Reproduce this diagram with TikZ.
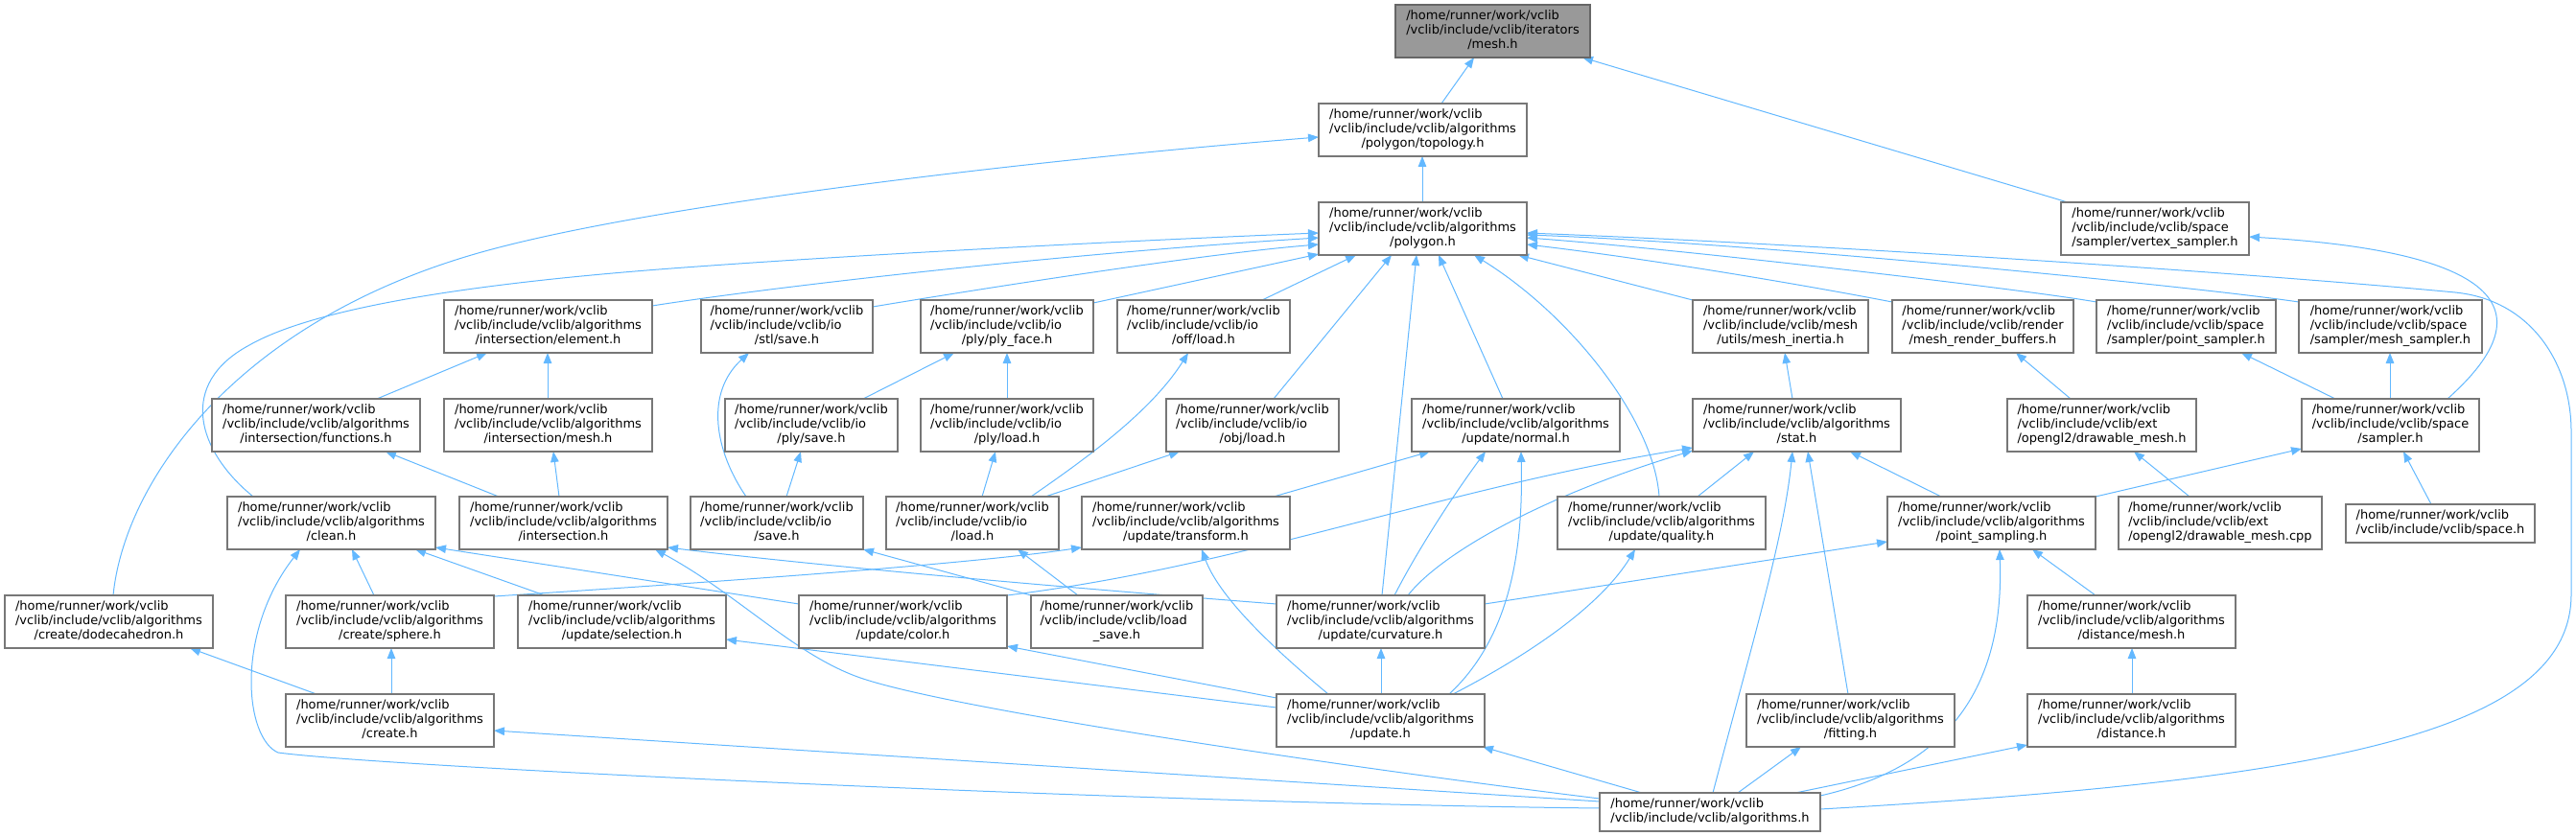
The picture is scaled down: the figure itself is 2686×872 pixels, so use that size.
\documentclass[tikz,border=0pt]{standalone}
\usepackage{fontspec}
\setmainfont{DejaVu Sans}
\usetikzlibrary{arrows.meta,calc,backgrounds}
\definecolor{edgec}{HTML}{63B8FF}
\definecolor{boxc}{HTML}{777777}
\definecolor{mainf}{HTML}{999999}
\newcommand\Hp{/home/runner/work/vclib}
\newcommand\Vp{/vclib/include/vclib}
\newcommand\lblA[3]{\begin{tabular}{@{}l@{}}#1\\#2\\\multicolumn{1}{@{}c@{}}{#3}\end{tabular}}
\newcommand\lblB[2]{\begin{tabular}{@{}l@{}}#1\\#2\end{tabular}}
\tikzset{
  box/.style={draw=boxc,line width=1.1pt,fill=white,inner sep=0pt,outer sep=0pt,
    font=\fontsize{13}{15}\selectfont,minimum height=55pt},
  e/.style={draw=edgec,line width=1pt,-{Triangle[length=11pt,width=8.5pt]}}
}
\begin{document}
\begin{tikzpicture}[x=1pt,y=-1pt]
\useasboundingbox (0,0) rectangle (2686,872);
% row 0-2
\node[box,minimum width=203pt,fill=mainf,draw=black!60] (mesh) at (1556.5,32.5) {\lblA{\Hp}{\Vp/iterators}{/mesh.h}};
\node[box,minimum width=217pt] (topology) at (1483.5,135.5) {\lblA{\Hp}{\Vp/algorithms}{/polygon/topology.h}};
\node[box,minimum width=196pt] (vsamp) at (2247,238.5) {\lblA{\Hp}{\Vp/space}{/sampler/vertex\_sampler.h}};
\node[box,minimum width=217pt] (polygon) at (1483.5,238.5) {\lblA{\Hp}{\Vp/algorithms}{/polygon.h}};
% row 3
\node[box,minimum width=217pt] (element) at (571.5,340.5) {\lblA{\Hp}{\Vp/algorithms}{/intersection/element.h}};
\node[box,minimum width=179pt] (stlsave) at (820.5,340.5) {\lblA{\Hp}{\Vp/io}{/stl/save.h}};
\node[box,minimum width=180pt] (plyface) at (1050,340.5) {\lblA{\Hp}{\Vp/io}{/ply/ply\_face.h}};
\node[box,minimum width=180pt] (offload) at (1255,340.5) {\lblA{\Hp}{\Vp/io}{/off/load.h}};
\node[box,minimum width=183pt] (inertia) at (1856.5,340.5) {\lblA{\Hp}{\Vp/mesh}{/utils/mesh\_inertia.h}};
\node[box,minimum width=189pt] (render) at (2067.5,340.5) {\lblA{\Hp}{\Vp/render}{/mesh\_render\_buffers.h}};
\node[box,minimum width=187pt] (psampler) at (2279.5,340.5) {\lblA{\Hp}{\Vp/space}{/sampler/point\_sampler.h}};
\node[box,minimum width=191pt] (msampler) at (2492.5,340.5) {\lblA{\Hp}{\Vp/space}{/sampler/mesh\_sampler.h}};
% row 4
\node[box,minimum width=217pt] (functions) at (329.5,443.5) {\lblA{\Hp}{\Vp/algorithms}{/intersection/functions.h}};
\node[box,minimum width=217pt] (intmesh) at (571.5,443.5) {\lblA{\Hp}{\Vp/algorithms}{/intersection/mesh.h}};
\node[box,minimum width=180pt] (plysave) at (846,443.5) {\lblA{\Hp}{\Vp/io}{/ply/save.h}};
\node[box,minimum width=180pt] (plyload) at (1050,443.5) {\lblA{\Hp}{\Vp/io}{/ply/load.h}};
\node[box,minimum width=180pt] (objload) at (1306,443.5) {\lblA{\Hp}{\Vp/io}{/obj/load.h}};
\node[box,minimum width=217pt] (normal) at (1580.5,443.5) {\lblA{\Hp}{\Vp/algorithms}{/update/normal.h}};
\node[box,minimum width=217pt] (stat) at (1873.5,443.5) {\lblA{\Hp}{\Vp/algorithms}{/stat.h}};
\node[box,minimum width=197pt] (drawh) at (2191.5,443.5) {\lblA{\Hp}{\Vp/ext}{/opengl2/drawable\_mesh.h}};
\node[box,minimum width=185pt] (sampler) at (2492.5,443.5) {\lblA{\Hp}{\Vp/space}{/sampler.h}};
% row 5
\node[box,minimum width=217pt] (clean) at (345.5,545.5) {\lblA{\Hp}{\Vp/algorithms}{/clean.h}};
\node[box,minimum width=217pt] (intersection) at (587.5,545.5) {\lblA{\Hp}{\Vp/algorithms}{/intersection.h}};
\node[box,minimum width=180pt] (iosave) at (810,545.5) {\lblA{\Hp}{\Vp/io}{/save.h}};
\node[box,minimum width=180pt] (ioload) at (1014,545.5) {\lblA{\Hp}{\Vp/io}{/load.h}};
\node[box,minimum width=217pt] (transform) at (1236.5,545.5) {\lblA{\Hp}{\Vp/algorithms}{/update/transform.h}};
\node[box,minimum width=217pt] (quality) at (1732.5,545.5) {\lblA{\Hp}{\Vp/algorithms}{/update/quality.h}};
\node[box,minimum width=217pt] (psampling) at (2076.5,545.5) {\lblA{\Hp}{\Vp/algorithms}{/point\_sampling.h}};
\node[box,minimum width=212pt] (drawcpp) at (2315,545.5) {\lblA{\Hp}{\Vp/ext}{/opengl2/drawable\_mesh.cpp}};
\node[box,minimum width=197pt,minimum height=40pt] (space) at (2544.5,546) {\lblB{\Hp}{\Vp/space.h}};
% row 6
\node[box,minimum width=217pt] (dodec) at (113.5,648.5) {\lblA{\Hp}{\Vp/algorithms}{/create/dodecahedron.h}};
\node[box,minimum width=217pt] (sphere) at (406.5,648.5) {\lblA{\Hp}{\Vp/algorithms}{/create/sphere.h}};
\node[box,minimum width=217pt] (selection) at (648.5,648.5) {\lblA{\Hp}{\Vp/algorithms}{/update/selection.h}};
\node[box,minimum width=217pt] (color) at (941.5,648.5) {\lblA{\Hp}{\Vp/algorithms}{/update/color.h}};
\node[box,minimum width=179pt] (loadsave) at (1164.5,648.5) {\lblA{\Hp}{\Vp/load}{\_save.h}};
\node[box,minimum width=217pt] (curvature) at (1439.5,648.5) {\lblA{\Hp}{\Vp/algorithms}{/update/curvature.h}};
\node[box,minimum width=217pt] (distmesh) at (2222.5,648.5) {\lblA{\Hp}{\Vp/algorithms}{/distance/mesh.h}};
% row 7
\node[box,minimum width=217pt] (create) at (406.5,751.5) {\lblA{\Hp}{\Vp/algorithms}{/create.h}};
\node[box,minimum width=217pt] (update) at (1439.5,751.5) {\lblA{\Hp}{\Vp/algorithms}{/update.h}};
\node[box,minimum width=217pt] (fitting) at (1929.5,751.5) {\lblA{\Hp}{\Vp/algorithms}{/fitting.h}};
\node[box,minimum width=217pt] (distance) at (2222.5,751.5) {\lblA{\Hp}{\Vp/algorithms}{/distance.h}};
% row 8
\node[box,minimum width=230pt,minimum height=40pt] (algorithms) at (1783,847) {\lblB{\Hp}{\Vp/algorithms.h}};

\begin{pgfonlayer}{background}
\draw[e] ($(topology.north west)+(128,0)$) -- ($(mesh.north west)+(82,55)$);
\draw[e] ($(vsamp.north west)+(7,0)$) -- ($(mesh.north west)+(195,55)$);
\draw[e] ($(polygon.north west)+(108,0)$) -- ($(topology.north west)+(108,55)$);
\draw[e] ($(dodec.north west)+(113,0)$) .. controls (130,500) and (250,330) .. (513,260) .. controls (700,210) and (1100,165) .. ($(topology.north west)+(0,35)$);
\draw[e] ($(clean.north west)+(27,0)$) .. controls (205,470) and (185,400) .. (260,360) .. controls (330,320) and (500,295) .. (700,280) .. controls (900,265) and (1200,250) .. ($(polygon.north west)+(0,32)$);
\draw[e] ($(element.north west)+(217,6)$) .. controls (800,300) and (1100,265) .. ($(polygon.north west)+(0,37)$);
\draw[e] ($(stlsave.north west)+(179,7)$) .. controls (1000,305) and (1250,265) .. ($(polygon.north west)+(0,44)$);
\draw[e] ($(plyface.north west)+(180,3)$) -- ($(polygon.north west)+(0,54)$);
\draw[e] ($(offload.north west)+(151,0)$) -- ($(polygon.north west)+(39,55)$);
\draw[e] ($(objload.north west)+(112,0)$) -- ($(polygon.north west)+(76,55)$);
\draw[e] ($(curvature.north west)+(110,0)$) -- ($(polygon.north west)+(102,55)$);
\draw[e] ($(normal.north west)+(95,0)$) -- ($(polygon.north west)+(125,55)$);
\draw[e] ($(quality.north west)+(106,0)$) .. controls (1725,440) and (1640,330) .. ($(polygon.north west)+(162,55)$);
\draw[e] ($(inertia.north west)+(0,0)$) -- ($(polygon.north west)+(208,55)$);
\draw[e] ($(render.north west)+(0,2)$) .. controls (1880,297) and (1720,270) .. ($(polygon.north west)+(217,44)$);
\draw[e] ($(psampler.north west)+(0,2)$) .. controls (2106,301) and (1742,259) .. ($(polygon.north west)+(217,37)$);
\draw[e] ($(msampler.north west)+(0,2)$) .. controls (2297,300) and (1842,254) .. ($(polygon.north west)+(217,34)$);
\draw[e] ($(algorithms.north west)+(230,17)$) .. controls (2400,815) and (2681,770) .. (2681,620) -- (2681,450) .. controls (2681,380) and (2640,313) .. (2560,305) .. controls (2350,285) and (1900,255) .. ($(polygon.north west)+(217,32)$);
\draw[e] ($(sampler.north west)+(152,0)$) .. controls (2660,320) and (2600,262) .. ($(vsamp.north west)+(196,36)$);
\draw[e] ($(functions.north west)+(172,0)$) -- ($(element.north west)+(45,55)$);
\draw[e] ($(intmesh.north west)+(108,0)$) -- ($(element.north west)+(108,55)$);
\draw[e] ($(iosave.north west)+(58,0)$) .. controls (745,470) and (735,410) .. ($(stlsave.north west)+(50,55)$);
\draw[e] ($(plysave.north west)+(144,0)$) -- ($(plyface.north west)+(35,55)$);
\draw[e] ($(plyload.north west)+(90,0)$) -- ($(plyface.north west)+(90,55)$);
\draw[e] ($(ioload.north west)+(151,0)$) .. controls (1130,480) and (1200,430) .. ($(offload.north west)+(74,55)$);
\draw[e] ($(ioload.north west)+(166,0)$) -- ($(objload.north west)+(14,55)$);
\draw[e] ($(ioload.north west)+(100,0)$) -- ($(plyload.north west)+(78,55)$);
\draw[e] ($(iosave.north west)+(100,0)$) -- ($(plysave.north west)+(79,55)$);
\draw[e] ($(intersection.north west)+(41,0)$) -- ($(functions.north west)+(181,55)$);
\draw[e] ($(intersection.north west)+(104,0)$) -- ($(intmesh.north west)+(114,55)$);
\draw[e] ($(transform.north west)+(200,0)$) -- ($(normal.north west)+(19,55)$);
\draw[e] ($(stat.north west)+(104,0)$) -- ($(inertia.north west)+(96,55)$);
\draw[e] ($(drawh.north west)+(66,0)$) -- ($(render.north west)+(129,55)$);
\draw[e] ($(sampler.north west)+(35,0)$) -- ($(psampler.north west)+(151,55)$);
\draw[e] ($(sampler.north west)+(92,0)$) -- ($(msampler.north west)+(95,55)$);
\draw[e] ($(psampling.north west)+(56,0)$) -- ($(stat.north west)+(164,55)$);
\draw[e] ($(psampling.north west)+(217,0)$) -- ($(sampler.north west)+(0,52)$);
\draw[e] ($(drawcpp.north west)+(74,0)$) -- ($(drawh.north west)+(132,55)$);
\draw[e] ($(space.north west)+(89,0)$) -- ($(sampler.north west)+(106,55)$);
\draw[e] ($(quality.north west)+(146,0)$) -- ($(stat.north west)+(64,55)$);
\draw[e] ($(color.north west)+(217,0)$) .. controls (1300,590) and (1500,510) .. ($(stat.north west)+(0,51)$);
\draw[e] ($(curvature.north west)+(137,0)$) .. controls (1500,580) and (1600,520) .. ($(stat.north west)+(0,54)$);
\draw[e] ($(algorithms.north west)+(118,0)$) .. controls (1830,660) and (1860,560) .. ($(stat.north west)+(104,55)$);
\draw[e] ($(fitting.north west)+(106,0)$) -- ($(stat.north west)+(120,55)$);
\draw[e] ($(curvature.north west)+(123,0)$) .. controls (1480,570) and (1520,510) .. ($(normal.north west)+(77,55)$);
\draw[e] ($(update.north west)+(180,0)$) .. controls (1580,660) and (1588,560) .. ($(normal.north west)+(114,55)$);
\draw[e] ($(update.north west)+(184,0)$) .. controls (1600,680) and (1670,630) .. ($(quality.north west)+(81,55)$);
\draw[e] ($(update.north west)+(54,0)$) .. controls (1320,670) and (1270,620) .. ($(transform.north west)+(125,55)$);
\draw[e] ($(update.north west)+(109,0)$) -- ($(curvature.north west)+(109,55)$);
\draw[e] ($(update.north west)+(0,4)$) -- ($(color.north west)+(217,53)$);
\draw[e] ($(update.north west)+(0,14)$) -- ($(selection.north west)+(217,46)$);
\draw[e] ($(algorithms.north west)+(44,0)$) -- ($(update.north west)+(215,55)$);
\draw[e] ($(algorithms.north west)+(0,6)$) .. controls (1400,800) and (1000,741) .. (900,708) .. controls (830,685) and (770,620) .. ($(intersection.north west)+(204,55)$);
\draw[e] ($(algorithms.north west)+(0,9)$) -- ($(create.north west)+(217,38)$);
\draw[e] ($(algorithms.north west)+(0,16)$) .. controls (1200,838) and (400,800) .. (290,785) .. controls (255,770) and (245,660) .. ($(clean.north west)+(76,55)$);
\draw[e] ($(color.north west)+(0,9)$) -- ($(clean.north west)+(217,53)$);
\draw[e] ($(sphere.north west)+(92,0)$) -- ($(clean.north west)+(130,55)$);
\draw[e] ($(selection.north west)+(28,0)$) -- ($(clean.north west)+(196,55)$);
\draw[e] ($(sphere.north west)+(217,1)$) .. controls (700,610) and (1000,590) .. ($(transform.north west)+(0,53)$);
\draw[e] ($(curvature.north west)+(0,9)$) .. controls (1100,612) and (850,590) .. ($(intersection.north west)+(217,53)$);
\draw[e] ($(loadsave.north west)+(0,0)$) -- ($(iosave.north west)+(180,55)$);
\draw[e] ($(loadsave.north west)+(49,0)$) -- ($(ioload.north west)+(137,55)$);
\draw[e] ($(create.north west)+(32,0)$) -- ($(dodec.north west)+(193,55)$);
\draw[e] ($(create.north west)+(110,0)$) -- ($(sphere.north west)+(110,55)$);
\draw[e] ($(curvature.north west)+(217,9)$) -- ($(psampling.north west)+(0,47)$);
\draw[e] ($(algorithms.north west)+(230,3)$) .. controls (2030,800) and (2090,720) .. ($(psampling.north west)+(117,55)$);
\draw[e] ($(distmesh.north west)+(71,0)$) -- ($(psampling.north west)+(151,55)$);
\draw[e] ($(distance.north west)+(109,0)$) -- ($(distmesh.north west)+(109,55)$);
\draw[e] ($(algorithms.north west)+(144,0)$) -- ($(fitting.north west)+(57,55)$);
\draw[e] ($(algorithms.north west)+(204,0)$) -- ($(distance.north west)+(0,53)$);
\end{pgfonlayer}
\end{tikzpicture}
\end{document}
